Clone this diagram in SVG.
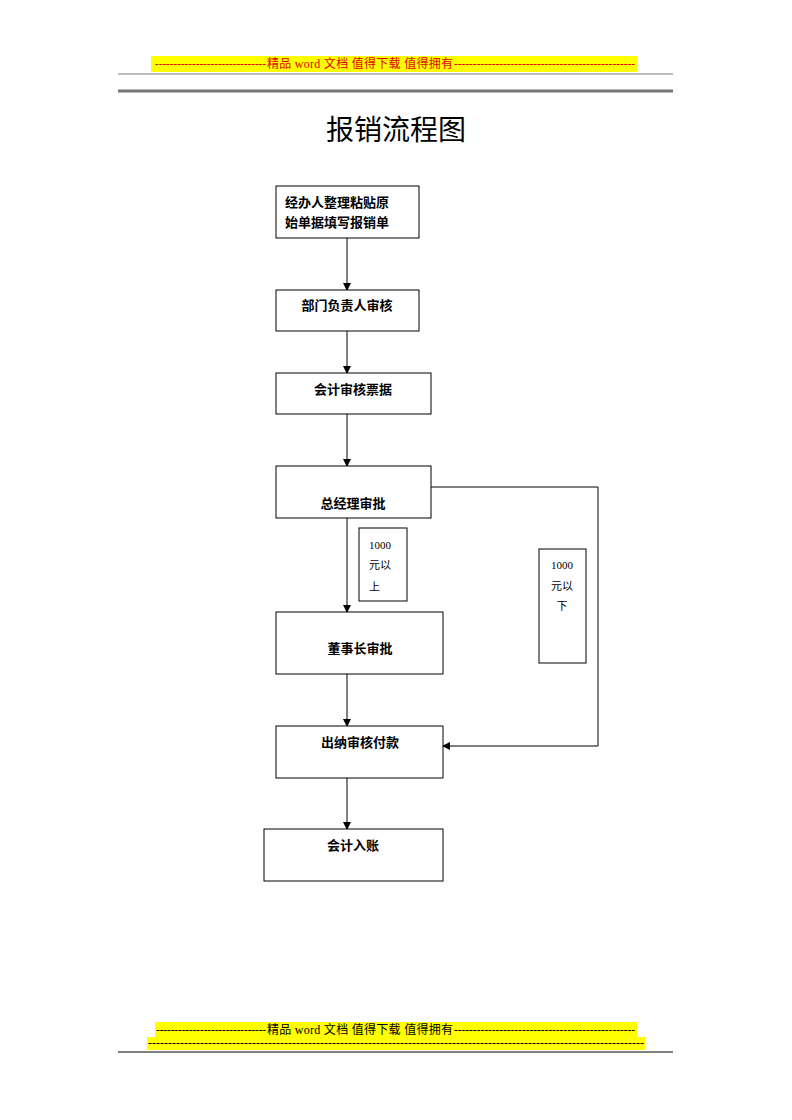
<svg xmlns="http://www.w3.org/2000/svg" width="792" height="1120" viewBox="0 0 792 1120">
<style>
.box{fill:#fff;stroke:#000;stroke-width:1}
.lbl{fill:#fff;stroke:#000;stroke-width:1}
.t{font-family:"Noto Sans CJK SC","Liberation Sans",sans-serif;font-size:13px;font-weight:bold;fill:#000}
.s{font-family:"Liberation Serif","Noto Sans CJK SC",serif;font-size:11px;fill:#000}
.h{font-family:"Liberation Serif","Noto Sans CJK SC",serif;font-size:12px}
.c{fill:none;stroke:#000;stroke-width:1}
</style>
<defs>
<marker id="ah" markerWidth="8" markerHeight="8" refX="7" refY="4" orient="auto" markerUnits="userSpaceOnUse">
<path d="M0,0 L8,4 L0,8 Z" fill="#000"/>
</marker>
</defs>
<rect width="792" height="1120" fill="#fff"/>
<g id="header">
<rect x="151" y="56" width="486" height="16" fill="#ffff00"/>
<text class="h" fill="#e00000" x="155" y="68" textLength="111" lengthAdjust="spacingAndGlyphs">------------------------------</text>
<text class="h" fill="#e00000" x="267" y="68" textLength="186">精品 word 文档  值得下载  值得拥有</text>
<text class="h" fill="#e00000" x="454" y="68" textLength="181" lengthAdjust="spacingAndGlyphs">------------------------------------------------</text>
<line x1="118" y1="74" x2="673" y2="74" stroke="#777" stroke-width="1"/>
<line x1="118" y1="91" x2="673" y2="91" stroke="#777" stroke-width="3"/>
</g>
<text x="396" y="140" text-anchor="middle" font-family="Noto Sans CJK SC,sans-serif" font-size="28" fill="#000">报销流程图</text>
<g id="connectors">
<line class="c" x1="347" y1="238" x2="347" y2="290" marker-end="url(#ah)"/>
<line class="c" x1="347" y1="331" x2="347" y2="373" marker-end="url(#ah)"/>
<line class="c" x1="347" y1="414" x2="347" y2="466" marker-end="url(#ah)"/>
<line class="c" x1="347" y1="518" x2="347" y2="612" marker-end="url(#ah)"/>
<line class="c" x1="347" y1="674" x2="347" y2="726" marker-end="url(#ah)"/>
<line class="c" x1="347" y1="778" x2="347" y2="829" marker-end="url(#ah)"/>
<polyline class="c" points="431,487 598,487 598,746 443,746" marker-end="url(#ah)"/>
</g>
<g id="n1"><rect class="box" x="276" y="186" width="143" height="52"/>
<text class="t" x="285" y="207">经办人整理粘贴原</text>
<text class="t" x="285" y="227">始单据填写报销单</text></g>
<g id="n2"><rect class="box" x="276" y="290" width="143" height="41"/>
<text class="t" x="347" y="310" text-anchor="middle">部门负责人审核</text></g>
<g id="n3"><rect class="box" x="276" y="373" width="155" height="41"/>
<text class="t" x="353" y="394" text-anchor="middle">会计审核票据</text></g>
<g id="n4"><rect class="box" x="276" y="466" width="155" height="52"/>
<text class="t" x="353" y="508" text-anchor="middle">总经理审批</text></g>
<g id="n5"><rect class="box" x="276" y="612" width="167" height="62"/>
<text class="t" x="360" y="653" text-anchor="middle">董事长审批</text></g>
<g id="n6"><rect class="box" x="276" y="726" width="167" height="52"/>
<text class="t" x="360" y="747" text-anchor="middle">出纳审核付款</text></g>
<g id="n7"><rect class="box" x="264" y="829" width="179" height="52"/>
<text class="t" x="353" y="850" text-anchor="middle">会计入账</text></g>
<g id="label1"><rect class="lbl" x="359" y="528" width="48" height="73"/>
<text class="s" x="369" y="549">1000</text>
<text class="s" x="369" y="569">元以</text>
<text class="s" x="369" y="591" font-size="13" fill="#3a1f5a">上</text></g>
<g id="label2"><rect class="lbl" x="539" y="549" width="47" height="114"/>
<text class="s" x="562" y="569" text-anchor="middle">1000</text>
<text class="s" x="562" y="590" text-anchor="middle">元以</text>
<text class="s" x="562" y="610" text-anchor="middle">下</text></g>
<g id="footer">
<rect x="155" y="1022" width="482" height="15" fill="#ffff00"/>
<rect x="147" y="1037" width="498" height="13" fill="#ffff00"/>
<text class="h" fill="#000" x="156" y="1034" textLength="110" lengthAdjust="spacingAndGlyphs">------------------------------</text>
<text class="h" fill="#000" x="267" y="1034" textLength="186">精品 word 文档  值得下载  值得拥有</text>
<text class="h" fill="#000" x="454" y="1034" textLength="181" lengthAdjust="spacingAndGlyphs">------------------------------------------------</text>
<text class="h" fill="#000" x="148" y="1047" textLength="496" lengthAdjust="spacingAndGlyphs">----------------------------------------------------------------------------------------------------------------------------</text>
<line x1="118" y1="1052" x2="673" y2="1052" stroke="#000" stroke-width="1"/>
</g>
</svg>
